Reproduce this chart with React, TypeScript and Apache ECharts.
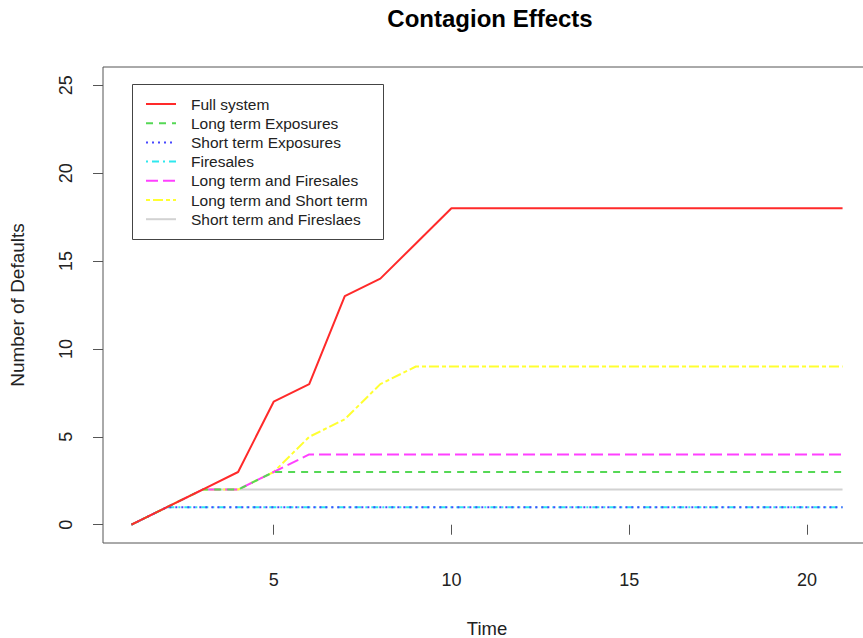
import React, { useEffect, useRef } from "react";
import * as echarts from "echarts";

const time = [1, 2, 3, 4, 5, 6, 7, 8, 9, 10, 11, 12, 13, 14, 15, 16, 17, 18, 19, 20, 21];
const fullSystem = [0, 1, 2, 3, 7, 8, 13, 14, 16, 18, 18, 18, 18, 18, 18, 18, 18, 18, 18, 18, 18];
const longTermExposures = [0, 1, 2, 2, 3, 3, 3, 3, 3, 3, 3, 3, 3, 3, 3, 3, 3, 3, 3, 3, 3];
const shortTermExposures = [0, 1, 1, 1, 1, 1, 1, 1, 1, 1, 1, 1, 1, 1, 1, 1, 1, 1, 1, 1, 1];
const firesales = [0, 1, 1, 1, 1, 1, 1, 1, 1, 1, 1, 1, 1, 1, 1, 1, 1, 1, 1, 1, 1];
const longTermAndFiresales = [0, 1, 2, 2, 3, 4, 4, 4, 4, 4, 4, 4, 4, 4, 4, 4, 4, 4, 4, 4, 4];
const longTermAndShortTerm = [0, 1, 2, 2, 3, 5, 6, 8, 9, 9, 9, 9, 9, 9, 9, 9, 9, 9, 9, 9, 9];
const shortTermAndFireslaes = [0, 1, 2, 2, 2, 2, 2, 2, 2, 2, 2, 2, 2, 2, 2, 2, 2, 2, 2, 2, 2];

const seriesNames = [
  "Full system",
  "Long term Exposures",
  "Short term Exposures",
  "Firesales",
  "Long term and Firesales",
  "Long term and Short term",
  "Short term and Fireslaes",
];
const seriesValues = [
  fullSystem,
  longTermExposures,
  shortTermExposures,
  firesales,
  longTermAndFiresales,
  longTermAndShortTerm,
  shortTermAndFireslaes,
];
const xTicks = [5, 10, 15, 20];
const yTicks = [0, 5, 10, 15, 20, 25];

const colors = ["#ff2a2a", "#55d855", "#4848ff", "#2ee8ee", "#ff40ff", "#ffff30", "#d2d2d2"];
const dashes: (number[] | "solid")[] = [
  "solid",
  [7, 6],
  [2, 4],
  [2, 4, 7, 4],
  [12, 5],
  [4, 3, 10, 3],
  "solid",
];
const FONT = "'Liberation Sans', Arial, sans-serif";

export default function App() {
  const ref = useRef<HTMLDivElement>(null);
  useEffect(() => {
    if (!ref.current) return;
    const chart = echarts.init(ref.current, null, { renderer: "svg" });
    chart.setOption({
      animation: false,
      backgroundColor: "#ffffff",
      textStyle: { fontFamily: FONT },
      title: {
        text: "Contagion Effects",
        left: 485,
        top: 1,
        textAlign: "center",
        textStyle: { fontSize: 24, fontWeight: "bold", color: "#000", fontFamily: FONT },
      },
      grid: {
        left: 103,
        top: 67,
        width: 768,
        height: 476,
        show: true,
        borderColor: "#555",
        borderWidth: 1,
        backgroundColor: "transparent",
        outerBoundsMode: "none",
        containLabel: false,
      },
      legend: {
        left: 145,
        top: 96,
        orient: "vertical",
        itemWidth: 30,
        itemHeight: 14,
        itemGap: 3.2,
        padding: 0,
        data: seriesNames,
        itemStyle: { opacity: 0 },
        textStyle: { fontSize: 15.5, color: "#222", fontFamily: FONT, padding: [0, 0, 0, 10] },
      },
      graphic: [
        {
          type: "rect",
          left: 132,
          top: 84,
          shape: { width: 251, height: 155 },
          style: { fill: "#fff", stroke: "#444", lineWidth: 1 },
          z: 1,
        },
      ],
      xAxis: {
        type: "value",
        min: 0.2,
        max: 21.8,
        name: "Time",
        nameLocation: "middle",
        nameGap: 76,
        nameTextStyle: { fontSize: 18.5, color: "#222", fontFamily: FONT },
        axisLine: { show: false },
        splitLine: { show: false },
        axisTick: { show: true, length: 10, customValues: xTicks, lineStyle: { color: "#555" } },
        axisLabel: { customValues: xTicks, fontSize: 18, color: "#222", margin: 28, fontFamily: FONT },
      },
      yAxis: {
        type: "value",
        min: -1.04,
        max: 26.04,
        name: "Number of Defaults",
        nameLocation: "middle",
        nameGap: 76,
        nameTextStyle: { fontSize: 19, color: "#222", fontFamily: FONT },
        axisLine: { show: false },
        splitLine: { show: false },
        axisTick: { show: true, length: 10, customValues: yTicks, lineStyle: { color: "#555" } },
        axisLabel: {
          customValues: yTicks,
          fontSize: 18,
          color: "#222",
          margin: 28,
          rotate: 90,
          fontFamily: FONT,
        },
      },
      series: seriesNames.map((name, i) => ({
        name,
        type: "line",
        symbol: "none",
        z: 10 - i,
        data: time.map((t, k) => [t, seriesValues[i][k]]),
        color: colors[i],
        lineStyle: { color: colors[i], width: 2, type: dashes[i] },
      })),
    });
    return () => chart.dispose();
  }, []);
  return (
    <div
      ref={ref}
      style={{ position: "absolute", left: 0, top: 0, width: 863, height: 638, overflow: "hidden" }}
    />
  );
}
